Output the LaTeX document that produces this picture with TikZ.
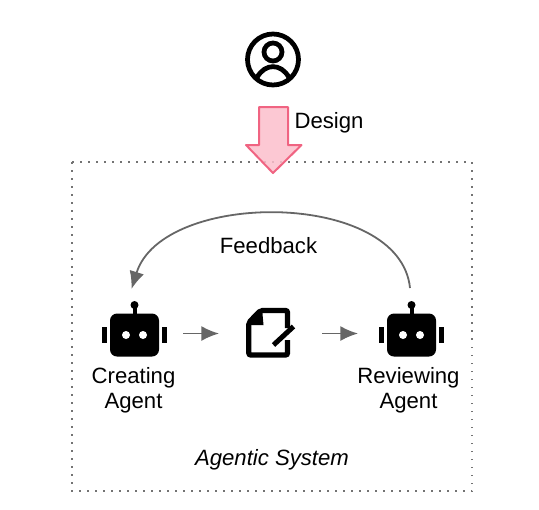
\documentclass[tikz,border=0pt]{standalone}
\usepackage{fontspec}
\setmainfont{Liberation Sans}
\usetikzlibrary{arrows.meta,positioning,shapes}
\definecolor{arrowgray}{RGB}{102,102,102}
\definecolor{pinkfill}{RGB}{252,190,203}
\definecolor{pinkline}{RGB}{240,100,130}
\tikzset{
  lbl/.style={font=\fontsize{12.6}{14.2}\selectfont, align=center, text=black},
  icon/.style={minimum size=0.9cm, inner sep=0pt},
  flow/.style={-{Latex[length=10pt,width=8.5pt]}, arrowgray, line width=0.036cm},
  robot/.pic={
    \fill[rounded corners=0.14cm] (-0.49,-0.43) rectangle (0.49,0.43);
    \fill (-0.65,-0.16) rectangle (-0.55,0.16);
    \fill (0.55,-0.16) rectangle (0.65,0.16);
    \fill (-0.04,0.43) rectangle (0.04,0.62);
    \fill (0,0.6) circle (0.08);
    \fill[white] (-0.17,0) circle (0.08);
    \fill[white] (0.17,0) circle (0.08);
  }
}
\begin{document}
\begin{tikzpicture}
  \useasboundingbox (0,0) rectangle (10.78,-10.18);

  % System box
  \draw[dash pattern=on 0.03cm off 0.13cm, line width=0.035cm, black!55] (1.44,-3.24) rectangle (9.44,-9.82);

  % User
  \node[icon] (user) at (5.46,-1.19) {};
  \draw[line width=0.095cm] (user.center) circle (0.51);
  \draw[line width=0.095cm] (5.46,-1.04) circle (0.18);
  \draw[line width=0.095cm] (5.14,-1.55) .. controls (5.3,-1.26) and (5.62,-1.26) .. (5.78,-1.55);

  % Design arrow
  \node[icon] (design) at (5.46,-2.8) {};
  \draw[fill=pinkfill, fill opacity=0.85, draw=pinkline, line width=0.04cm, line join=round]
    (5.18,-2.14) -- (5.76,-2.14) -- (5.76,-2.9) -- (6.03,-2.9) -- (5.46,-3.46)
    -- (4.92,-2.9) -- (5.18,-2.9) -- cycle;
  \node[lbl] at (6.58,-2.45) {Design};

  % Agents
  \node[icon] (creating) at (2.69,-6.7) {};
  \pic at (creating) {robot};
  \node[icon] (doc) at (5.36,-6.67) {};
  \node[icon] (reviewing) at (8.23,-6.7) {};
  \pic at (reviewing) {robot};

  % Document
  \draw[line width=0.105cm, rounded corners=0.04cm]
    (5.75,-6.56) -- (5.75,-6.21) -- (5.21,-6.21) -- (4.976,-6.45) -- (4.976,-7.1) -- (5.75,-7.1) -- (5.75,-6.8);
  \fill (5.24,-6.17) -- (5.27,-6.5) -- (4.94,-6.5) -- cycle;
  \draw[line width=0.1cm] (5.47,-6.9) -- (5.87,-6.53);

  % Arrows
  \draw[flow] (3.66,-6.67) -- (4.38,-6.67);
  \draw[flow] (6.44,-6.67) -- (7.16,-6.67);
  \coordinate (fbstart) at (8.2,-5.76);
  \coordinate (fbend) at (2.63,-5.78);
  \draw[flow] (fbstart) .. controls (8.0,-3.79) and (3.25,-3.79) .. (fbend);

  % Labels
  \node[lbl] at (5.37,-4.91) {Feedback};
  \node[lbl] at (2.67,-7.8) {Creating\\Agent};
  \node[lbl] at (8.17,-7.8) {Reviewing\\Agent};
  \node[lbl, font=\fontsize{12.6}{14.2}\selectfont\itshape] at (5.44,-9.2) {Agentic System};
\end{tikzpicture}
\end{document}
